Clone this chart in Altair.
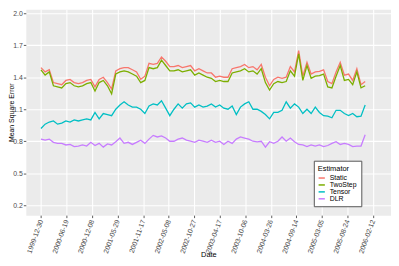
import altair as alt
import pandas as pd

estimators = ["Static", "TwoStep", "Tensor", "DLR"]
colors = ["#F8766D", "#7CAE00", "#00BFC4", "#C77CFF"]

# observation dates: every 28 days starting 1999-12-30 (79 observations)
dates = [d.strftime("%Y-%m-%d") for d in pd.date_range("1999-12-30", periods=79, freq="28D")]

tick_dates = ["1999-12-30", "2000-06-19", "2000-12-08", "2001-05-29", "2001-11-17",
              "2002-05-08", "2002-10-27", "2003-04-17", "2003-10-06", "2004-03-26",
              "2004-09-14", "2005-03-05", "2005-08-24", "2006-02-12"]
y_ticks = [0.2, 0.5, 0.8, 1.1, 1.4, 1.7, 2.0]

static = [1.49, 1.45, 1.47, 1.35, 1.34, 1.33, 1.37, 1.38, 1.35, 1.34,
          1.35, 1.37, 1.38, 1.31, 1.38, 1.40, 1.35, 1.29, 1.46, 1.48,
          1.49, 1.49, 1.47, 1.45, 1.38, 1.41, 1.53, 1.52, 1.53, 1.59,
          1.55, 1.50, 1.50, 1.51, 1.49, 1.50, 1.51, 1.46, 1.48, 1.46,
          1.44, 1.44, 1.40, 1.41, 1.40, 1.40, 1.48, 1.49, 1.50, 1.52,
          1.49, 1.50, 1.47, 1.52, 1.40, 1.32, 1.38, 1.40, 1.39, 1.40,
          1.50, 1.45, 1.65, 1.41, 1.54, 1.43, 1.45, 1.455, 1.47, 1.36,
          1.34, 1.45, 1.54, 1.42, 1.43, 1.37, 1.48, 1.33, 1.36]
twostep = [1.47, 1.42, 1.45, 1.32, 1.31, 1.30, 1.34, 1.35, 1.32, 1.31,
           1.32, 1.34, 1.35, 1.27, 1.35, 1.37, 1.32, 1.245, 1.43, 1.45,
           1.46, 1.45, 1.43, 1.41, 1.35, 1.37, 1.49, 1.48, 1.49, 1.56,
           1.51, 1.46, 1.46, 1.47, 1.45, 1.46, 1.47, 1.42, 1.44, 1.42,
           1.40, 1.39, 1.36, 1.37, 1.36, 1.36, 1.44, 1.45, 1.46, 1.48,
           1.45, 1.46, 1.43, 1.48, 1.35, 1.28, 1.34, 1.36, 1.35, 1.36,
           1.46, 1.41, 1.62, 1.37, 1.51, 1.39, 1.41, 1.415, 1.43, 1.31,
           1.30, 1.41, 1.51, 1.37, 1.38, 1.33, 1.45, 1.30, 1.32]
tensor = [0.92, 0.96, 0.98, 0.99, 0.96, 0.97, 0.99, 0.98, 1.00, 0.99,
          1.00, 1.01, 1.00, 1.07, 1.01, 1.06, 1.05, 1.04, 1.10, 1.14,
          1.17, 1.14, 1.12, 1.12, 1.10, 1.06, 1.13, 1.15, 1.14, 1.18,
          1.11, 1.04, 1.10, 1.15, 1.11, 1.15, 1.16, 1.12, 1.14, 1.12,
          1.13, 1.15, 1.12, 1.14, 1.11, 1.10, 1.13, 1.05, 1.12, 1.15,
          1.17, 1.10, 1.10, 1.08, 1.05, 1.01, 1.07, 1.07, 1.09, 1.17,
          1.11, 1.15, 1.12, 1.06, 1.10, 1.06, 1.12, 1.07, 1.04, 1.035,
          1.02, 1.09, 1.09, 1.06, 1.04, 1.06, 1.03, 1.035, 1.14]
dlr = [0.82, 0.81, 0.82, 0.79, 0.78, 0.78, 0.765, 0.77, 0.75, 0.755,
       0.765, 0.755, 0.79, 0.76, 0.78, 0.745, 0.775, 0.765, 0.795, 0.83,
       0.78, 0.79, 0.77, 0.79, 0.81, 0.78, 0.82, 0.855, 0.84, 0.85,
       0.83, 0.80, 0.80, 0.82, 0.83, 0.81, 0.80, 0.79, 0.81, 0.80,
       0.79, 0.81, 0.79, 0.80, 0.77, 0.80, 0.78, 0.82, 0.84, 0.83,
       0.82, 0.80, 0.795, 0.80, 0.745, 0.795, 0.78, 0.80, 0.84, 0.80,
       0.83, 0.795, 0.77, 0.765, 0.75, 0.765, 0.755, 0.765, 0.75, 0.76,
       0.78, 0.795, 0.77, 0.78, 0.77, 0.75, 0.755, 0.755, 0.86]

series = {"Static": static, "TwoStep": twostep, "Tensor": tensor, "DLR": dlr}

FONT = "Liberation Sans"


def dt(s):
    y, m, d = (int(p) for p in s.split("-"))
    return alt.DateTime(year=y, month=m, date=d, utc=True)


x_enc = alt.X(
    "Date:T",
    scale=alt.Scale(type="utc", domain=[dt("1999-09-19"), dt("2006-06-14")], nice=False),
    axis=alt.Axis(
        values=[dt(t) for t in tick_dates],
        format="%Y-%m-%d",
        labelAngle=-70,
        labelAlign="right",
        labelBaseline="middle",
        labelPadding=2,
        title="Date",
        titleY=36,
        titleBaseline="top",
    ),
)
y_enc = alt.Y(
    "MSE:Q",
    scale=alt.Scale(domain=[0.1071, 2.0371], nice=False, zero=False),
    axis=alt.Axis(
        values=y_ticks,
        format=".1f",
        title="Mean Square Error",
        titleX=-12.5,
        titleBaseline="alphabetic",
        titleFontSize=7,
    ),
)
color_enc = alt.Color(
    "Estimator:N",
    scale=alt.Scale(domain=estimators, range=colors),
    legend=alt.Legend(title="Estimator", orient="none", legendX=291, legendY=153),
)

layers = []
for name in estimators:
    df = pd.DataFrame({"Date": dates, "MSE": series[name], "Estimator": name})
    layers.append(
        alt.Chart(df).mark_line(strokeWidth=1.3).encode(x=x_enc, y=y_enc, color=color_enc)
    )

chart = (
    alt.layer(*layers)
    .properties(
        width=369,
        height=208,
        autosize=alt.AutoSizeParams(type="none"),
        padding={"left": 18, "top": 0, "right": 0, "bottom": 42},
        background="white",
    )
    .configure_view(fill="#EBEBEB", stroke="transparent")
    .configure_axis(
        labelFont=FONT,
        titleFont=FONT,
        labelFontSize=7,
        labelColor="#4D4D4D",
        titleFontSize=7.5,
        titleFontWeight="normal",
        titleColor="#000000",
        domain=False,
        tickColor="#333333",
        tickSize=2.5,
        tickWidth=0.8,
        labelPadding=1,
        grid=True,
        gridColor="#FFFFFF",
        gridWidth=1.1,
    )
    .configure_legend(
        labelFont=FONT,
        titleFont=FONT,
        titleFontSize=7.5,
        titleFontWeight="normal",
        titleColor="#000000",
        labelFontSize=7,
        labelColor="#000000",
        fillColor="#FFFFFF",
        strokeColor="#555555",
        padding=4,
        symbolType="stroke",
        symbolStrokeWidth=1.5,
        symbolSize=40,
        rowPadding=0,
        titlePadding=2,
        labelOffset=4,
    )
)

chart.save("out.html", embed_options={"renderer": "svg", "actions": False})
